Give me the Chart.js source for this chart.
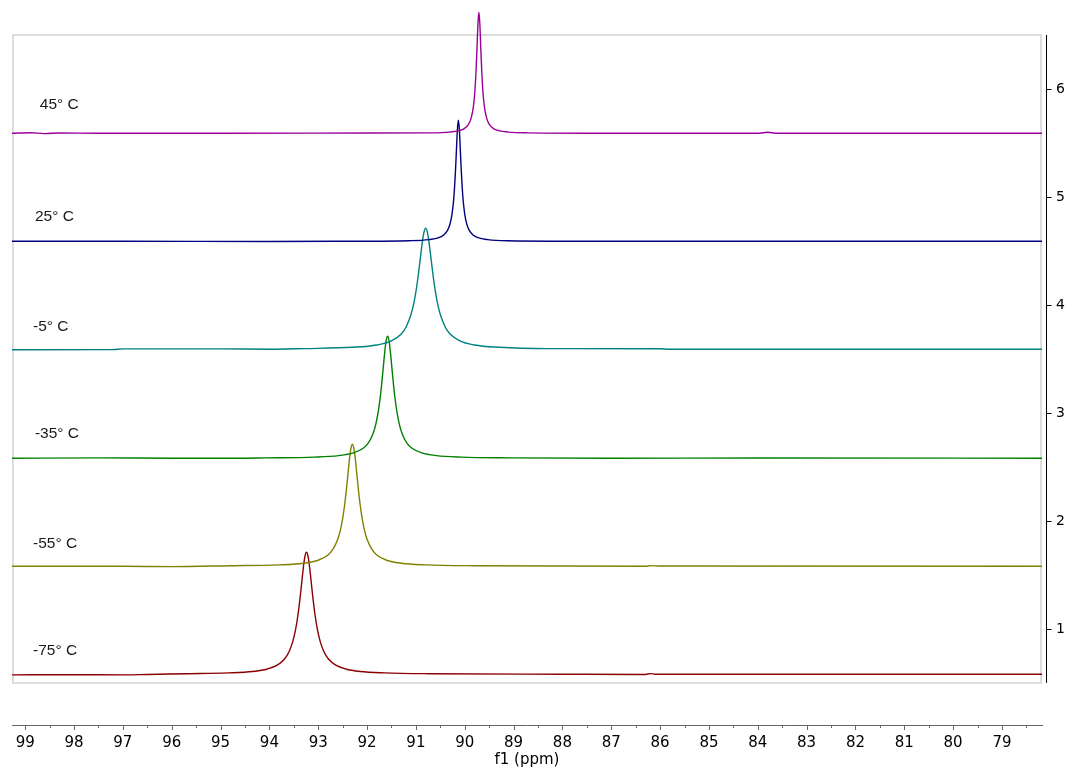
<!DOCTYPE html>
<html>
<head>
<meta charset="utf-8">
<title>VT 13C stack</title>
<script src="https://cdn.jsdelivr.net/npm/chart.js@4.4.1/dist/chart.umd.min.js"></script>
<style>
  body { margin: 0; background: #fff; }
  #wrap { width: 1069px; height: 772px; }
</style>
</head>
<body>
<div id="wrap"><canvas id="chart" width="1069" height="772"></canvas></div>
<script>
const temperatures = ['45° C', '25° C', '-5° C', '-35° C', '-55° C', '-75° C'];
const baselines = [5.59, 4.59, 3.59, 2.58, 1.58, 0.58];
const colors = ['#990099', '#000080', '#008080', '#008000', '#808000', '#8b0000'];

const xTicks = [79, 80, 81, 82, 83, 84, 85, 86, 87, 88, 89, 90, 91, 92, 93, 94, 95, 96, 97, 98, 99];
const yTicks = [1, 2, 3, 4, 5, 6];

// 45 C
const ppm45 = [99.27, 98.9, 98.6, 98.3, 97.5, 95.0, 92.0,
    90.71, 90.31, 90.11, 90.01, 89.93, 89.88, 89.84, 89.81, 89.79, 89.77, 89.75, 89.73, 89.71,
    89.69, 89.67, 89.65, 89.63, 89.61, 89.58, 89.54, 89.49, 89.41, 89.31, 89.11, 88.71,
    87.0, 84.0, 83.8, 83.6, 81.0, 78.18];
const int45 = [0, 0.005, -0.003, 0.003, 0, 0, 0.002,
    0.004, 0.011, 0.025, 0.043, 0.078, 0.124, 0.197, 0.296, 0.403, 0.56, 0.775, 1.008, 1.12,
    1.008, 0.775, 0.56, 0.403, 0.296, 0.197, 0.124, 0.078, 0.043, 0.025, 0.011, 0.004,
    0, 0, 0.01, 0, 0, 0];

// 25 C
const ppm25 = [99.27, 97.0, 94.0, 92.5,
    91.13, 90.73, 90.53, 90.43, 90.35, 90.30, 90.26, 90.23, 90.21, 90.19, 90.17, 90.15, 90.13,
    90.11, 90.09, 90.07, 90.05, 90.03, 90.00, 89.96, 89.91, 89.83, 89.73, 89.53, 89.13,
    87.0, 84.0, 78.18];
const int25 = [0, 0, -0.002, 0,
    0.005, 0.015, 0.033, 0.058, 0.103, 0.162, 0.252, 0.368, 0.486, 0.646, 0.844, 1.035, 1.12,
    1.035, 0.844, 0.646, 0.486, 0.368, 0.252, 0.162, 0.103, 0.058, 0.033, 0.015, 0.005,
    0, 0, 0];

// -5 C
const ppmM5 = [99.27, 97.2, 97.0, 95.0, 94.0,
    93.30, 92.30, 91.80, 91.50, 91.30, 91.20, 91.10, 91.05, 91.00, 90.96, 90.92, 90.88, 90.84, 90.80,
    90.76, 90.72, 90.68, 90.64, 90.60, 90.55, 90.50, 90.40, 90.30, 90.10, 89.80, 89.30, 88.30,
    86.0, 85.8, 78.18];
const intM5 = [-0.005, -0.004, 0.003, 0.003, 0,
    0.006, 0.018, 0.039, 0.077, 0.141, 0.206, 0.321, 0.410, 0.531, 0.655, 0.801, 0.951, 1.073, 1.12,
    1.073, 0.951, 0.801, 0.655, 0.531, 0.410, 0.321, 0.206, 0.141, 0.077, 0.039, 0.018, 0.006,
    0.005, 0, 0];

// -35 C
const ppmM35 = [99.27, 97.5, 96.0, 95.0,
    94.08, 93.08, 92.58, 92.28, 92.08, 91.98, 91.88, 91.82, 91.77, 91.73, 91.70, 91.67, 91.64, 91.61, 91.58,
    91.55, 91.52, 91.49, 91.46, 91.43, 91.39, 91.34, 91.28, 91.18, 91.08, 90.88, 90.58, 90.08, 89.08,
    87.0, 84.0, 78.18];
const intM35 = [0, 0.004, 0, 0,
    0.004, 0.011, 0.025, 0.050, 0.093, 0.139, 0.226, 0.317, 0.434, 0.565, 0.689, 0.831, 0.974, 1.087, 1.13,
    1.087, 0.974, 0.831, 0.689, 0.565, 0.434, 0.317, 0.226, 0.139, 0.093, 0.050, 0.025, 0.011, 0.004,
    0, 0.003, 0];

// -55 C
const ppmM55 = [99.27, 97.0, 96.0,
    94.80, 93.80, 93.30, 93.00, 92.80, 92.70, 92.60, 92.55, 92.50, 92.46, 92.42, 92.39, 92.36, 92.33, 92.30,
    92.27, 92.24, 92.21, 92.18, 92.14, 92.10, 92.05, 92.00, 91.90, 91.80, 91.60, 91.30, 90.80, 89.80,
    86.3, 86.2, 86.0, 78.18];
const intM55 = [0, 0, -0.003,
    0.005, 0.013, 0.028, 0.056, 0.105, 0.156, 0.250, 0.328, 0.441, 0.565, 0.723, 0.858, 0.991, 1.092, 1.13,
    1.092, 0.991, 0.858, 0.723, 0.565, 0.441, 0.328, 0.250, 0.156, 0.105, 0.056, 0.028, 0.013, 0.005,
    0, 0.006, 0.002, 0];

// -75 C
const ppmM75 = [99.27, 98.0, 97.0, 96.5,
    95.74, 94.84, 94.34, 94.04, 93.84, 93.69, 93.59, 93.52, 93.46, 93.41, 93.36, 93.33, 93.30, 93.27, 93.24,
    93.21, 93.18, 93.15, 93.12, 93.07, 93.02, 92.96, 92.89, 92.79, 92.64, 92.44, 92.14, 91.64, 90.74,
    88.0, 86.3, 86.2, 86.1, 78.18];
const intM75 = [-0.006, -0.004, -0.006, -0.002,
    0.005, 0.013, 0.026, 0.049, 0.084, 0.141, 0.216, 0.304, 0.422, 0.565, 0.754, 0.883, 1.005, 1.096, 1.13,
    1.096, 1.005, 0.883, 0.754, 0.565, 0.422, 0.304, 0.216, 0.141, 0.084, 0.049, 0.026, 0.013, 0.005,
    0, -0.002, 0.006, 0, 0];

const spectra = [
    [ppm45, int45],
    [ppm25, int25],
    [ppmM5, intM5],
    [ppmM35, intM35],
    [ppmM55, intM55],
    [ppmM75, intM75]
];

const tickFont = { family: '"DejaVu Sans", Verdana, sans-serif', size: 15 };

// light frame, right axis line, x minor ticks and the temperature labels
const decorations = {
    id: 'decorations',
    beforeDatasetsDraw(chart) {
        const { ctx, chartArea, scales: { x, y } } = chart;
        const top = y.getPixelForValue(6.5);
        const bottom = y.getPixelForValue(0.5);
        ctx.save();
        ctx.strokeStyle = '#dddddd';
        ctx.lineWidth = 2;
        ctx.strokeRect(x.left + 1, top, x.right - x.left - 2, bottom - top);

        // right y axis
        const ax = x.right + 4.5;
        ctx.strokeStyle = '#000';
        ctx.lineWidth = 1;
        ctx.beginPath();
        ctx.moveTo(ax, top);
        ctx.lineTo(ax, bottom);
        y.ticks.forEach(t => {
            const py = Math.round(y.getPixelForValue(t.value)) + 0.5;
            ctx.moveTo(ax, py);
            ctx.lineTo(ax + 5, py);
        });
        ctx.stroke();

        // x ticks, major and minor
        const base = chartArea.bottom;
        ctx.strokeStyle = '#666';
        ctx.beginPath();
        x.ticks.forEach(t => {
            const px = Math.round(x.getPixelForValue(t.value)) + 0.5;
            ctx.moveTo(px, base);
            ctx.lineTo(px, base + 5);
            const pm = Math.round(x.getPixelForValue(t.value - 0.5)) + 0.5;
            ctx.moveTo(pm, base);
            ctx.lineTo(pm, base + 3);
        });
        ctx.stroke();
        ctx.restore();
    },
    afterDatasetsDraw(chart) {
        const { ctx, scales: { x, y } } = chart;
        ctx.save();
        ctx.font = '15.5px "Liberation Sans", Arial, sans-serif';
        ctx.fillStyle = '#1a1a1a';
        ctx.textAlign = 'left';
        ctx.textBaseline = 'middle';
        const labelAt = [98.70, 98.80, 98.84, 98.80, 98.84, 98.84];
        const lift = [0.26, 0.23, 0.21, 0.23, 0.21, 0.22];
        temperatures.forEach((t, k) => {
            ctx.fillText(t, x.getPixelForValue(labelAt[k]), y.getPixelForValue(baselines[k] + lift[k]));
        });
        ctx.restore();
    }
};

document.addEventListener("DOMContentLoaded", () => {
    const datasets = spectra.map(([ppm, inten], k) => ({
        label: temperatures[k],
        data: ppm.map((v, i) => ({ x: v, y: baselines[k] + inten[i] })),
        borderColor: colors[k],
        borderWidth: 1.4,
        pointRadius: 0,
        fill: false,
        cubicInterpolationMode: 'monotone',
        clip: false
    }));

    new Chart(document.getElementById('chart'), {
        type: 'line',
        data: { datasets: datasets },
        options: {
            responsive: false,
            animation: false,
            layout: { padding: { left: 12, top: 35, right: 2, bottom: 0 } },
            plugins: {
                legend: { display: false },
                tooltip: { enabled: false }
            },
            scales: {
                x: {
                    type: 'linear',
                    reverse: true,
                    min: 78.18,
                    max: 99.27,
                    afterBuildTicks: axis => { axis.ticks = xTicks.map(v => ({ value: v })); },
                    afterFit: axis => { axis.height = 47; },
                    grid: { display: false },
                    border: { display: true, color: '#666', width: 1 },
                    ticks: {
                        font: tickFont,
                        color: '#000',
                        padding: 1,
                        maxRotation: 0,
                        autoSkip: false,
                        callback: v => String(v)
                    },
                    title: {
                        display: true,
                        text: 'f1 (ppm)',
                        font: tickFont,
                        color: '#000',
                        padding: { top: 0, bottom: 3 }
                    }
                },
                y: {
                    type: 'linear',
                    position: 'right',
                    min: 0.11,
                    max: 6.5,
                    afterBuildTicks: axis => { axis.ticks = yTicks.map(v => ({ value: v })); },
                    afterFit: axis => { axis.width = 25; },
                    grid: { display: false, drawTicks: false },
                    border: { display: false },
                    ticks: {
                        font: { family: '"DejaVu Sans", Verdana, sans-serif', size: 14 },
                        color: '#000',
                        padding: 14,
                        autoSkip: false,
                        callback: v => String(v)
                    }
                }
            }
        },
        plugins: [decorations]
    });
});
</script>
</body>
</html>
